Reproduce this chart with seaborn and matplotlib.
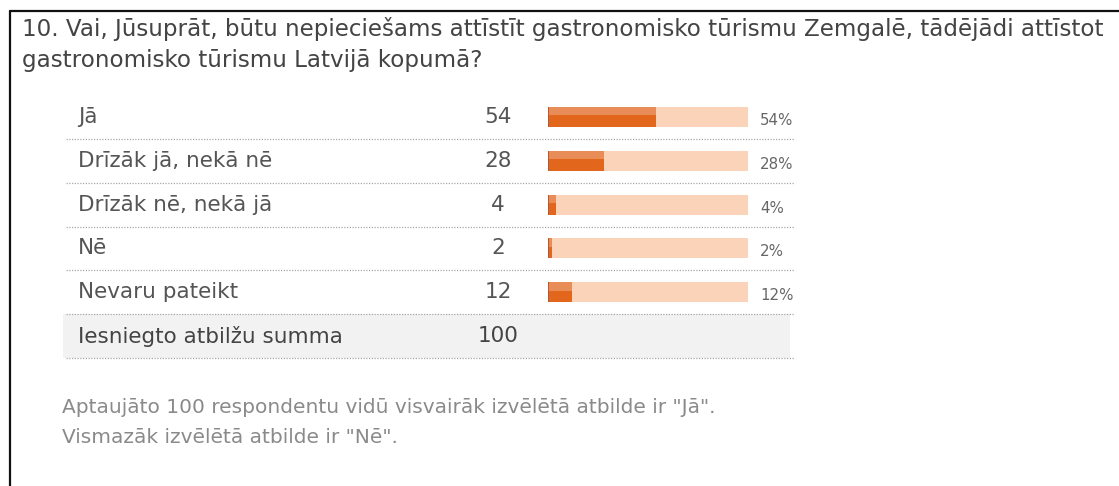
import matplotlib
matplotlib.use("Agg")
import matplotlib.pyplot as plt
from matplotlib.lines import Line2D
from matplotlib.patches import Rectangle
import seaborn as sns
import pandas as pd

# ---- data ----
title_lines = ["10. Vai, Jūsuprāt, būtu nepieciešams attīstīt gastronomisko tūrismu Zemgalē, tādējādi attīstot",
               "gastronomisko tūrismu Latvijā kopumā?"]
categories = ["Jā", "Drīzāk jā, nekā nē", "Drīzāk nē, nekā jā", "Nē", "Nevaru pateikt"]
counts = [54, 28, 4, 2, 12]
percents = [54, 28, 4, 2, 12]
total_label = "Iesniegto atbilžu summa"
total_value = 100
footer_lines = ['Aptaujāto 100 respondentu vidū visvairāk izvēlētā atbilde ir "Jā".',
                'Vismazāk izvēlētā atbilde ir "Nē".']

W, H = 1119, 486
sns.set_theme(style="white")
plt.rcParams['font.family'] = ['DejaVu Sans']

fig = plt.figure(figsize=(W / 100, H / 100), dpi=100)
fig.patch.set_facecolor("white")

# axes for the bars: x 0..100 -> px 548..748 ; rows centred at 117 + i*43.8
row_h = 43.8
top_px = 117 - row_h / 2
bot_px = top_px + 6 * row_h
ax = fig.add_axes([548 / W, 1 - bot_px / H, 200 / W, (bot_px - top_px) / H])
ax.set_facecolor("none")

df = pd.DataFrame({"cat": categories, "count": counts, "pct": percents,
                   "track": [100] * len(categories)})

sns.barplot(data=df, y="cat", x="track", color="#fbd3b9", width=0.46, ax=ax,
            saturation=1, edgecolor="none")
n_track = len(ax.patches)
sns.barplot(data=df, y="cat", x="pct", color="#e2661b", width=0.46, ax=ax,
            saturation=1, edgecolor="none")
# lighter upper part + darker left edge of the value bars
for p in ax.patches[n_track:]:
    x0, y0 = p.get_x(), p.get_y()
    w, h = p.get_width(), p.get_height()
    ax.add_patch(Rectangle((x0, y0), w, h * 0.42, color="#e98d58", lw=0, zorder=p.get_zorder() + 0.1))
    ax.add_patch(Rectangle((x0, y0), min(w, 0.6), h, color="#b8582a", lw=0, zorder=p.get_zorder() + 0.2))

ax.set_xlim(0, 100)
ax.set_ylim(5.5, -0.5)
ax.axis("off")

def px2x(px):
    return (px - 548) / 2.0

renderer = fig.canvas.get_renderer()

def fit_size(s, target_px, base=12, **kw):
    t = fig.text(0, 0, s, fontsize=base, **kw)
    w = t.get_window_extent(renderer).width
    t.remove()
    return base * target_px / w

# sum row background
ax.add_patch(Rectangle((px2x(63), 4.5), px2x(790) - px2x(63), 1.0, color="#f2f2f2",
                       lw=0, clip_on=False, zorder=0))

# dotted separators
for i in range(6):
    ax.plot([px2x(66), px2x(794)], [i + 0.5, i + 0.5], ls=(0, (1, 1.2)), lw=0.9,
            color="#a8a8a8", clip_on=False, zorder=1)

# row labels and counts
lab_fs = fit_size("Drīzāk jā, nekā nē", 194)
for i, (c, n, p) in enumerate(zip(categories, counts, percents)):
    ax.text(px2x(78), i, c, fontsize=lab_fs, color="#555555", ha="left", va="center")
    ax.text(px2x(498), i, str(n), fontsize=lab_fs, color="#555555", ha="center", va="center")
ax.text(px2x(78), 5, total_label, fontsize=lab_fs, color="#444444", ha="left", va="center")
ax.text(px2x(498), 5, str(total_value), fontsize=lab_fs, color="#444444", ha="center", va="center")

# percentage labels
pct_fs = fit_size("54%", 33)
for i, p in enumerate(percents):
    ax.text(px2x(760), i + 0.08, f"{p}%", fontsize=pct_fs, color="#666666", ha="left", va="center")

# title
t_fs = fit_size(title_lines[0], 1075)
fig.text(22 / W, 1 - 36 / H, title_lines[0], fontsize=t_fs, color="#444444", ha="left", va="baseline")
fig.text(22 / W, 1 - 67 / H, title_lines[1], fontsize=t_fs, color="#444444", ha="left", va="baseline")

# footer
f_fs = fit_size(footer_lines[0], 650)
fig.text(62 / W, 1 - 413 / H, footer_lines[0], fontsize=f_fs, color="#8a8a8a", ha="left", va="baseline")
fig.text(62 / W, 1 - 443 / H, footer_lines[1], fontsize=f_fs, color="#8a8a8a", ha="left", va="baseline")

# frame (top and left)
fig.add_artist(Line2D([9.5 / W, 1.0], [1 - 11.5 / H, 1 - 11.5 / H], transform=fig.transFigure,
                      color="#111111", lw=1.6))
fig.add_artist(Line2D([9.5 / W, 9.5 / W], [0, 1 - 11.5 / H], transform=fig.transFigure,
                      color="#111111", lw=1.6))

fig.savefig("out.png", dpi=100, facecolor="white")
